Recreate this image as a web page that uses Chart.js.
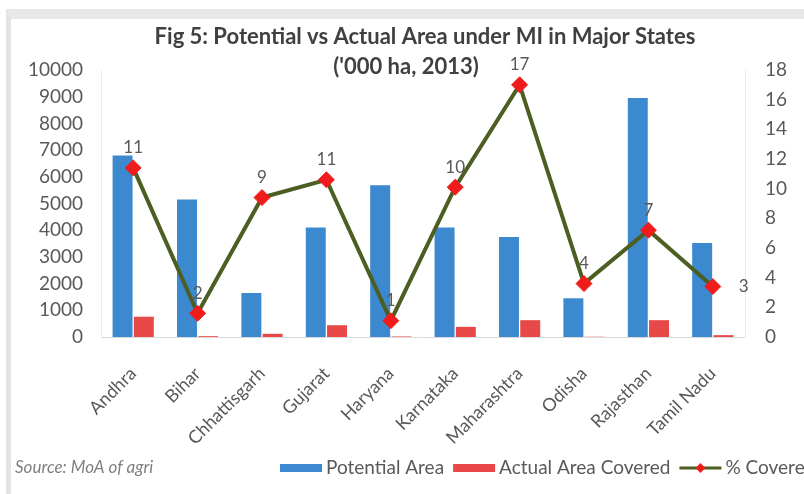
<!DOCTYPE html>
<html>
<head>
<meta charset="utf-8">
<script src="https://cdn.jsdelivr.net/npm/chart.js@4.4.1/dist/chart.umd.min.js"></script>
<style>
    html, body { margin: 0; padding: 0; background: #fff; overflow: hidden; }
    #wrap { position: relative; width: 804px; height: 494px; }
    #frame {
        position: absolute; left: 6px; top: 9px; width: 820px; height: 476px;
        border-left: 5px solid #e4e4e4; border-top: 10px solid #e8e8e8; border-bottom: 3px solid #e6e6e6;
    }
    #chart { position: absolute; left: 0; top: 0; }
</style>
</head>
<body>
<div id="wrap">
    <div id="frame"></div>
    <canvas id="chart" width="804" height="494"></canvas>
</div>
<script>
// chart data
const states = ['Andhra', 'Bihar', 'Chhattisgarh', 'Gujarat', 'Haryana', 'Karnataka', 'Maharashtra', 'Odisha', 'Rajasthan', 'Tamil Nadu'];
const potentialArea = [6800, 5150, 1650, 4100, 5680, 4100, 3750, 1450, 8950, 3520];
const actualArea = [760, 30, 120, 440, 20, 380, 630, 10, 630, 70];
const pctCovered = [11.4, 1.6, 9.4, 10.6, 1.1, 10.1, 17.0, 3.6, 7.2, 3.4];
const pctLabelSide = ['up', 'up', 'up', 'up', 'up', 'up', 'up', 'up', 'up', 'right'];
const leftTicks = [0, 1000, 2000, 3000, 4000, 5000, 6000, 7000, 8000, 9000, 10000];
const rightTicks = [0, 2, 4, 6, 8, 10, 12, 14, 16, 18];

const FONT = 'Lato, "Open Sans", sans-serif';
const GREY = '#595959';

document.addEventListener('DOMContentLoaded', function() {
    // title, value labels, legend and source note
    const extras = {
        id: 'extras',
        afterDatasetsDraw(chart) {
            const ctx = chart.ctx;
            const meta = chart.getDatasetMeta(2);
            ctx.save();
            ctx.fillStyle = GREY;
            ctx.font = '17px ' + FONT;
            ctx.textBaseline = 'middle';
            meta.data.forEach((pt, i) => {
                const txt = String(Math.round(pctCovered[i]));
                if (pctLabelSide[i] === 'right') {
                    ctx.textAlign = 'left';
                    ctx.fillText(txt, pt.x + 26, pt.y);
                } else {
                    ctx.textAlign = 'center';
                    ctx.fillText(txt, pt.x, pt.y - 20);
                }
            });
            ctx.restore();
        },
        afterDraw(chart) {
            const ctx = chart.ctx;
            ctx.save();
            ctx.fillStyle = '#404040';
            ctx.font = 'bold 22px ' + FONT;
            ctx.textAlign = 'center';
            ctx.textBaseline = 'middle';
            ctx.fillText('Fig 5: Potential vs Actual Area under MI in Major States', 425, 37);
            ctx.fillText("('000 ha, 2013)", 406, 67);

            // source note
            ctx.font = 'italic 17px ' + FONT;
            ctx.fillStyle = '#7f7f7f';
            ctx.textAlign = 'left';
            ctx.fillText('Source: MoA of agri', 15, 468);

            // legend
            let x = 280;
            const y = 468;
            ctx.font = '19px ' + FONT;
            chart.data.datasets.forEach(ds => {
                if (ds.type === 'line') {
                    ctx.strokeStyle = ds.borderColor;
                    ctx.lineWidth = 3;
                    ctx.beginPath();
                    ctx.moveTo(x, y);
                    ctx.lineTo(x + 42, y);
                    ctx.stroke();
                    ctx.fillStyle = ds.pointBackgroundColor;
                    ctx.beginPath();
                    ctx.moveTo(x + 21, y - 5);
                    ctx.lineTo(x + 26, y);
                    ctx.lineTo(x + 21, y + 5);
                    ctx.lineTo(x + 16, y);
                    ctx.closePath();
                    ctx.fill();
                } else {
                    ctx.fillStyle = ds.backgroundColor;
                    ctx.fillRect(x, y - 4, 42, 8);
                }
                ctx.fillStyle = GREY;
                ctx.fillText(ds.label, x + 46, y);
                x += 46 + ctx.measureText(ds.label).width + 9;
            });
            ctx.restore();
        }
    };

    new Chart(document.getElementById('chart'), {
        data: {
            labels: states,
            datasets: [
                {
                    type: 'bar',
                    label: 'Potential Area',
                    data: potentialArea,
                    backgroundColor: '#3c89d0',
                    yAxisID: 'y',
                    order: 2,
                    categoryPercentage: 0.66,
                    barPercentage: 0.94
                },
                {
                    type: 'bar',
                    label: 'Actual Area Covered',
                    data: actualArea,
                    backgroundColor: '#e84848',
                    yAxisID: 'y',
                    order: 2,
                    categoryPercentage: 0.66,
                    barPercentage: 0.94
                },
                {
                    type: 'line',
                    label: '% Covered',
                    data: pctCovered,
                    yAxisID: 'y1',
                    order: 0,
                    borderColor: '#4c5e22',
                    borderWidth: 4,
                    tension: 0,
                    pointStyle: 'rectRot',
                    pointRadius: 8,
                    pointBackgroundColor: '#f01c1c',
                    pointBorderColor: '#f01c1c',
                    pointBorderWidth: 1
                }
            ]
        },
        options: {
            responsive: false,
            animation: false,
            events: [],
            layout: { padding: { top: 70, left: 0, right: 0, bottom: 0 } },
            plugins: {
                legend: { display: false },
                title: { display: false },
                tooltip: { enabled: false }
            },
            scales: {
                x: {
                    grid: { display: false, drawTicks: false },
                    border: { color: '#d9d9d9' },
                    ticks: {
                        color: GREY,
                        font: { family: FONT, size: 18 },
                        maxRotation: 45,
                        minRotation: 45,
                        padding: 26
                    },
                    afterFit: axis => { axis.height = 157; }
                },
                y: {
                    position: 'left',
                    min: 0,
                    max: 10000,
                    afterBuildTicks: axis => { axis.ticks = leftTicks.map(v => ({ value: v })); },
                    grid: { display: false, drawTicks: false },
                    border: { color: '#ececec' },
                    ticks: {
                        color: GREY,
                        font: { family: FONT, size: 19 },
                        padding: 18,
                        callback: v => String(v)
                    },
                    afterFit: axis => { axis.width = 101; }
                },
                y1: {
                    position: 'right',
                    min: 0,
                    max: 18,
                    afterBuildTicks: axis => { axis.ticks = rightTicks.map(v => ({ value: v })); },
                    grid: { display: false, drawTicks: false },
                    border: { color: '#ececec' },
                    ticks: {
                        color: GREY,
                        font: { family: FONT, size: 19 },
                        padding: 20,
                        callback: v => String(v)
                    },
                    afterFit: axis => { axis.width = 59; }
                }
            }
        },
        plugins: [extras]
    });
});
</script>
</body>
</html>
